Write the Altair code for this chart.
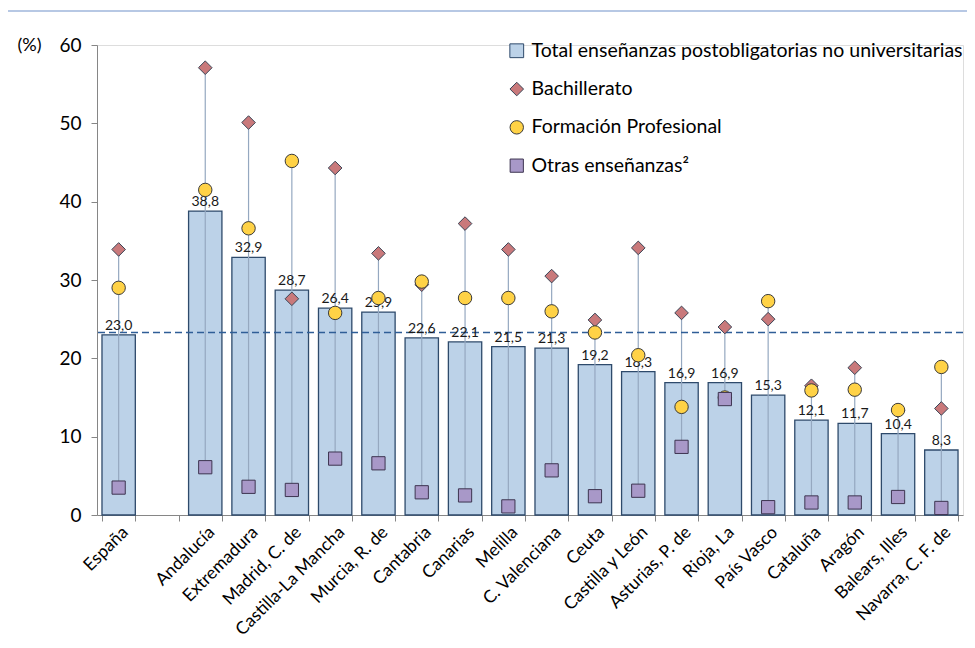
import altair as alt
import pandas as pd

regiones = ["España", " ", "Andalucía", "Extremadura", "Madrid, C. de", "Castilla-La Mancha",
            "Murcia, R. de", "Cantabria", "Canarias", "Melilla", "C. Valenciana", "Ceuta",
            "Castilla y León", "Asturias, P. de", "Rioja, La", "País Vasco", "Cataluña",
            "Aragón", "Balears, Illes", "Navarra, C. F. de"]
total = [23.0, None, 38.8, 32.9, 28.7, 26.4, 25.9, 22.6, 22.1, 21.5, 21.3, 19.2, 18.3,
         16.9, 16.9, 15.3, 12.1, 11.7, 10.4, 8.3]
bachillerato = [33.9, None, 57.1, 50.1, 27.6, 44.3, 33.4, 29.4, 37.2, 33.9, 30.5, 24.9, 34.1,
                25.8, 24.0, 25.0, 16.5, 18.8, 13.3, 13.6]
formacion = [29.0, None, 41.5, 36.6, 45.2, 25.8, 27.7, 29.8, 27.7, 27.7, 26.0, 23.3, 20.4,
             13.8, 15.0, 27.3, 15.9, 16.0, 13.4, 18.9]
otras = [3.5, None, 6.1, 3.6, 3.2, 7.2, 6.6, 2.9, 2.5, 1.1, 5.7, 2.4, 3.1,
         8.7, 14.8, 1.0, 1.6, 1.6, 2.3, 0.9]
media = 23.3

series = ["Total enseñanzas postobligatorias no universitarias", "Bachillerato",
          "Formación Profesional", "Otras enseñanzas²"]
fills = ["#BCD2E8", "#C9797B", "#FFD246", "#A898C8"]
strokes = ["#2E4A6B", "#3A4556", "#3A3A3A", "#3D3450"]
shapes = ["square", "diamond", "circle", "square"]
sizes = [190, 175, 135, 120]

FONT = "Lato"

df_bar = pd.DataFrame({"region": regiones, "valor": total, "serie": series[0]})
df_bar["etiqueta"] = [("%.1f" % v).replace(".", ",") if v is not None else "" for v in total]
df_bar = df_bar.dropna(subset=["valor"])

rows = []
for s, vals in zip(series[1:], [bachillerato, formacion, otras]):
    for r, v in zip(regiones, vals):
        if v is not None:
            rows.append({"region": r, "valor": v, "serie": s})
df_pts = pd.DataFrame(rows)
df_pts["orden"] = df_pts["serie"].map({s: i for i, s in enumerate(series)})

df_rng = pd.DataFrame({"region": regiones,
                       "lo": [min(a, b, c) if a is not None else None for a, b, c in zip(bachillerato, formacion, otras)],
                       "hi": [max(a, b, c) if a is not None else None for a, b, c in zip(bachillerato, formacion, otras)]}).dropna()

xenc = alt.X("region:N", sort=regiones, scale=alt.Scale(domain=regiones, paddingInner=0.23, paddingOuter=0.115),
             axis=alt.Axis(title=None, labelAngle=-45, labelAlign="right", labelBaseline="top",
                           labelFontSize=17.5, labelFont=FONT, labelColor="#000", labelPadding=2,
                           tickBand="extent", tickSize=6, tickColor="#868686", domainColor="#868686",
                           labelOverlap=False))
yscale = alt.Scale(domain=[0, 60], nice=False)
yaxis = alt.Axis(title="(%)", titleAngle=0, titleX=-80, titleY=0, titleAlign="left",
                 titleBaseline="middle", titleFontWeight="normal", titleFontSize=18, titleFont=FONT,
                 titleColor="#000",
                 values=[0, 10, 20, 30, 40, 50, 60], labelFontSize=19, labelFont=FONT, labelColor="#000",
                 tickSize=6, labelPadding=10, tickColor="#868686", domainColor="#868686", grid=False)

color_scale = alt.Scale(domain=series, range=fills)
stroke_scale = alt.Scale(domain=series, range=strokes)
shape_scale = alt.Scale(domain=series, range=shapes)
size_scale = alt.Scale(domain=series, range=sizes)
legend = alt.Legend(title=None, orient="none", legendX=410, legendY=-4, labelFontSize=19.5,
                    labelFont=FONT, labelColor="#000", rowPadding=17.3, labelOffset=5,
                    symbolStrokeWidth=1, labelLimit=600)

bars = alt.Chart(df_bar).mark_bar(strokeWidth=1.3).encode(
    x=xenc,
    y=alt.Y("valor:Q", scale=yscale, axis=yaxis),
    fill=alt.Fill("serie:N", scale=color_scale, legend=legend),
    stroke=alt.Stroke("serie:N", scale=stroke_scale, legend=legend),
)

labels = alt.Chart(df_bar).mark_text(dy=-9, fontSize=14, font=FONT, color="#1a1a1a").encode(
    x=alt.X("region:N", sort=regiones), y=alt.Y("valor:Q"), text="etiqueta:N")

drops = alt.Chart(df_rng).mark_rule(color="#95A8C0", strokeWidth=1.2).encode(
    x=alt.X("region:N", sort=regiones), y="lo:Q", y2="hi:Q")

dashed = alt.Chart(pd.DataFrame({"m": [media]})).mark_rule(
    color="#2F5E97", strokeDash=[7, 4], strokeWidth=1.6).encode(y="m:Q")

points = alt.Chart(df_pts).mark_point(filled=True, strokeWidth=1, opacity=1).encode(
    x=alt.X("region:N", sort=regiones),
    y=alt.Y("valor:Q"),
    fill=alt.Fill("serie:N", scale=color_scale, legend=legend),
    stroke=alt.Stroke("serie:N", scale=stroke_scale, legend=legend),
    shape=alt.Shape("serie:N", scale=shape_scale, legend=legend),
    size=alt.Size("serie:N", scale=size_scale, legend=legend),
    order=alt.Order("orden:Q"),
)

frame_df = pd.DataFrame({"a": [0]})
frame_left = alt.Chart(frame_df).mark_rule(color="#B7C8E4", strokeWidth=2).encode(
    x=alt.value(-92), y=alt.value(-34), y2=alt.value(600))
frame_top = alt.Chart(frame_df).mark_rule(color="#B7C8E4", strokeWidth=2).encode(
    x=alt.value(-92), x2=alt.value(880), y=alt.value(-34))

chart = alt.layer(frame_left, frame_top, bars, drops, dashed, labels, points).properties(
    width=866, height=470,
    autosize=alt.AutoSizeParams(type="none"),
    padding={"left": 89, "top": 37, "right": 4, "bottom": 125},
).configure_view(stroke=None).configure(font=FONT)

chart.save("out.html", embed_options={"renderer": "svg", "actions": False})
